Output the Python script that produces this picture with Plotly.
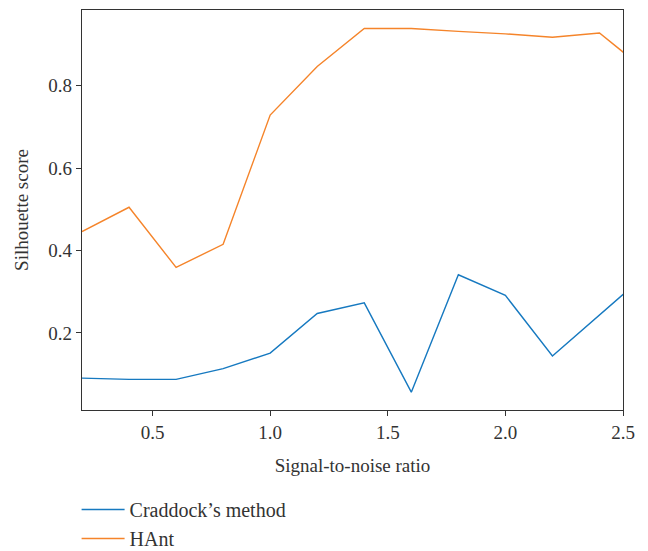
import plotly.graph_objects as go

snr = [0.2, 0.4, 0.6, 0.8, 1.0, 1.2, 1.4, 1.6, 1.8, 2.0, 2.2, 2.4, 2.6]
craddock = [0.090, 0.087, 0.087, 0.113, 0.151, 0.247, 0.273, 0.056, 0.341, 0.291, 0.144, 0.243, 0.343]
hant = [0.446, 0.505, 0.359, 0.415, 0.729, 0.847, 0.939, 0.939, 0.932, 0.926, 0.918, 0.928, 0.836]

x_ticks = [0.5, 1.0, 1.5, 2.0, 2.5]
y_ticks = [0.2, 0.4, 0.6, 0.8]

FONT = "Liberation Serif"
AX = "#333333"

fig = go.Figure()
fig.add_trace(go.Scatter(x=snr, y=craddock, mode="lines", name="Craddock\u2019s method",
                         line=dict(color="#1679c0", width=1.4)))
fig.add_trace(go.Scatter(x=snr, y=hant, mode="lines", name="HAnt",
                         line=dict(color="#f5842a", width=1.4)))

fig.update_layout(
    width=648, height=551,
    margin=dict(l=82, r=25, t=10, b=141, autoexpand=False),
    paper_bgcolor="white", plot_bgcolor="white",
    font=dict(family=FONT, size=19, color=AX),
    showlegend=True,
    legend=dict(x=-0.01, y=-0.2, xanchor="left", yanchor="top",
                font=dict(family=FONT, size=20, color=AX),
                tracegroupgap=0, itemwidth=43, bgcolor="rgba(0,0,0,0)"),
)
fig.update_xaxes(
    range=[0.2, 2.5], tickvals=x_ticks, ticktext=[f"{v:.1f}" for v in x_ticks],
    showgrid=False, zeroline=False, showline=True, linecolor=AX, linewidth=1.2,
    mirror=True, ticks="outside", ticklen=5, tickcolor=AX,
    title=dict(text="Signal-to-noise ratio", standoff=16, font=dict(size=19)),
)
fig.update_yaxes(
    range=[0.0127, 0.984], tickvals=y_ticks, ticktext=[f"{v:.1f}" for v in y_ticks],
    showgrid=False, zeroline=False, showline=True, linecolor=AX, linewidth=1.2,
    mirror=True, ticks="outside", ticklen=5, tickcolor=AX,
    title=dict(text="Silhouette score", standoff=14, font=dict(size=19)),
)

fig.write_html("out.html")
